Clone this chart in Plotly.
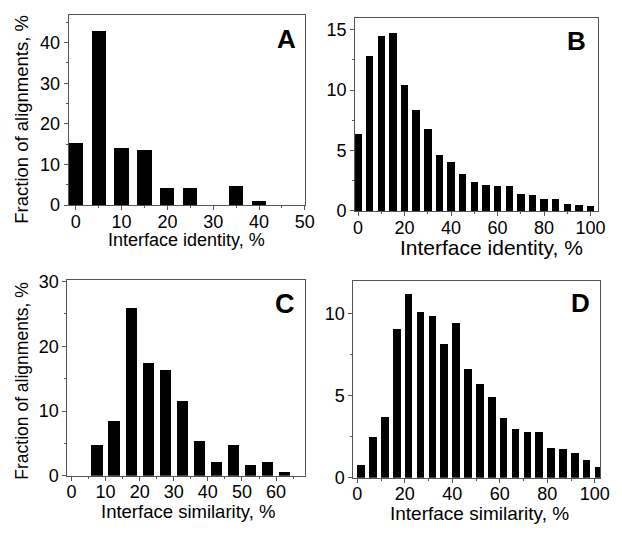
import plotly.graph_objects as go

# Panel A: interface identity (small set)
a_x = [0, 5, 10, 15, 20, 25, 30, 35, 40, 45]
a_y = [15.2, 42.9, 14.1, 13.6, 4.2, 4.2, 0, 4.7, 1.1, 0]

# Panel B: interface identity (large set)
b_x = [0, 5, 10, 15, 20, 25, 30, 35, 40, 45, 50, 55, 60, 65, 70, 75, 80, 85, 90, 95, 100]
b_y = [6.35, 12.85, 14.45, 14.7, 10.45, 8.37, 6.8, 4.6, 4.05, 3.1, 2.4, 2.13, 2.08, 2.1,
       1.39, 1.28, 0.96, 0.99, 0.56, 0.53, 0.37]

# Panel C: interface similarity (small set)
c_x = [7.5, 12.5, 17.5, 22.5, 27.5, 32.5, 37.5, 42.5, 47.5, 52.5, 57.5, 62.5]
c_y = [4.8, 8.5, 25.9, 17.4, 16.4, 11.6, 5.3, 2.2, 4.8, 1.6, 2.2, 0.55]

# Panel D: interface similarity (large set), bins start at x
d_x = [0, 5, 10, 15, 20, 25, 30, 35, 40, 45, 50, 55, 60, 65, 70, 75, 80, 85, 90, 95, 100]
d_y = [0.76, 2.47, 3.7, 9.07, 11.17, 10.1, 9.82, 8.11, 9.38, 6.63, 5.72, 4.92, 3.62,
       2.98, 2.8, 2.76, 1.79, 1.77, 1.48, 1.07, 0.66]

x_title_id = "Interface identity, %"
x_title_sim = "Interface similarity, %"
y_title = "Fraction of alignments, %"

FONT = "Liberation Sans, Arial, sans-serif"
AXC = "#555555"

fig = go.Figure()
fig.add_trace(go.Bar(x=a_x, y=a_y, width=3.1, marker=dict(color="black", line=dict(width=0)),
                     xaxis="x", yaxis="y"))
fig.add_trace(go.Bar(x=b_x, y=b_y, width=3.2, marker=dict(color="black", line=dict(width=0)),
                     xaxis="x2", yaxis="y2"))
fig.add_trace(go.Bar(x=c_x, y=c_y, width=3.3, marker=dict(color="black", line=dict(width=0)),
                     xaxis="x3", yaxis="y3"))
fig.add_trace(go.Bar(x=d_x, y=d_y, width=3.2, offset=0, marker=dict(color="black", line=dict(width=0)),
                     xaxis="x4", yaxis="y4"))


def ax(domain, rng, dtick, mdtick, anchor, fsize, is_x):
    d = dict(domain=domain, range=rng, dtick=dtick, tick0=0, anchor=anchor,
             showline=True, linecolor=AXC, linewidth=1, mirror=True,
             ticks="outside", ticklen=4, tickcolor=AXC, tickwidth=1,
             minor=dict(ticks="outside", ticklen=2, dtick=mdtick, tick0=0, tickcolor=AXC),
             showgrid=False, zeroline=False,
             tickfont=dict(family=FONT, size=fsize, color="black"), fixedrange=True)
    if is_x:
        d["ticklabelstandoff"] = -4
    return d


W, H = 622, 537
dA = ([68 / W, 309 / W], [1 - 204 / H, 1 - 7.3 / H])
dB = ([360 / W, 607.3 / W], [1 - 210 / H, 1 - 10 / H])
dC = ([66.7 / W, 309 / W], [1 - 484 / H, 1 - 281.7 / H])
dD = ([358.3 / W, 610 / W], [1 - 486 / H, 1 - 282.7 / H])

fig.update_layout(
    width=W, height=H,
    margin=dict(l=0, r=0, t=0, b=0),
    paper_bgcolor="white", plot_bgcolor="white",
    showlegend=False, bargap=0,
    xaxis=ax(dA[0], [-1.55, 50.05], 10, 5, "y", 18, True),
    yaxis=ax(dA[1], [0, 46.8], 10, 5, "x", 18, False),
    xaxis2=ax(dB[0], [-1.3, 103], 20, 10, "y2", 18, True),
    yaxis2=ax(dB[1], [0, 16], 5, 2.5, "x2", 18, False),
    xaxis3=ax(dC[0], [-1.2, 68.5], 10, 5, "y3", 18, True),
    yaxis3=ax(dC[1], [0, 30.2], 10, 5, "x3", 18, False),
    xaxis4=ax(dD[0], [-1.65, 102.3], 20, 10, "y4", 18, True),
    yaxis4=ax(dD[1], [0, 11.95], 5, 2.5, "x4", 18, False),
)

ann = []
def txt(x, y, s, size, bold=False, angle=0):
    ann.append(dict(x=x / W, y=1 - y / H, xref="paper", yref="paper", text=(f"<b>{s}</b>" if bold else s),
                    showarrow=False, xanchor="center", yanchor="middle", textangle=angle,
                    font=dict(family=FONT, size=size, color="black")))

txt(188, 240, x_title_id, 18)
txt(499, 248, x_title_id, 21)
txt(190, 521, x_title_sim, 18.5)
txt(487, 523, x_title_sim, 19)
txt(20, 115, y_title, 18.5, angle=-90)
txt(20, 386, y_title, 17.5, angle=-90)
txt(290, 32, "A", 26, bold=True)
txt(586, 34, "B", 26, bold=True)
txt(289, 306, "C", 27, bold=True)
txt(590, 305, "D", 26, bold=True)
fig.update_layout(annotations=ann)

fig.write_html("out.html",
               config={"displayModeBar": False, "staticPlot": True},
               post_script="document.body.style.margin='0';document.body.style.overflow='hidden';")
